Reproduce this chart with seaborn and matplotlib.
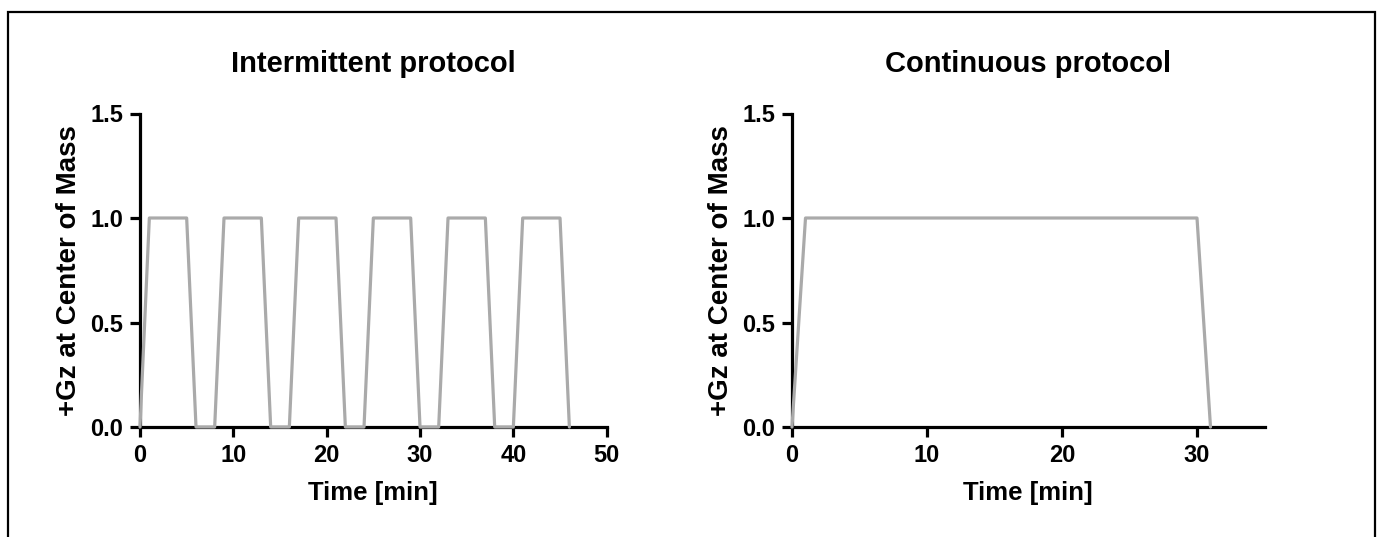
import matplotlib
matplotlib.use("Agg")
import matplotlib.pyplot as plt
from matplotlib.patches import Rectangle
import seaborn as sns

# protocol profiles (time in min, +Gz at center of mass)
intermittent_time = [0, 1, 5, 6, 8, 9, 13, 14, 16, 17, 21, 22, 24, 25, 29, 30,
                     32, 33, 37, 38, 40, 41, 45, 46]
intermittent_gz = [0, 1, 1, 0, 0, 1, 1, 0, 0, 1, 1, 0, 0, 1, 1, 0,
                   0, 1, 1, 0, 0, 1, 1, 0]
continuous_time = [0, 1, 30, 31]
continuous_gz = [0, 1, 1, 0]

titles = ["Intermittent protocol", "Continuous protocol"]
xlims = [50, 35]
xticks = [[0, 10, 20, 30, 40, 50], [0, 10, 20, 30]]
yticks = [0.0, 0.5, 1.0, 1.5]

sns.set_style("ticks")
plt.rcParams['font.family'] = ['Liberation Sans', 'DejaVu Sans']
plt.rcParams['font.weight'] = 'bold'
plt.rcParams['text.color'] = 'black'
plt.rcParams['axes.labelcolor'] = 'black'
plt.rcParams['xtick.color'] = 'black'
plt.rcParams['ytick.color'] = 'black'
plt.rcParams['axes.edgecolor'] = 'black'

line_col = "#aaaaaa"

fig = plt.figure(figsize=(13.8, 5.37), dpi=100)
ax1 = fig.add_axes([140/1380, 110/537, 466.7/1380, 313.5/537])
ax2 = fig.add_axes([792/1380, 110/537, 472.5/1380, 313.5/537])

data = [(intermittent_time, intermittent_gz), (continuous_time, continuous_gz)]
for i, ax in enumerate([ax1, ax2]):
    t, g = data[i]
    sns.lineplot(x=t, y=g, ax=ax, color=line_col, linewidth=2.3,
                 estimator=None, sort=False)
    for ln in ax.lines:
        ln.set_clip_on(False)
        ln.set_zorder(4)
    ax.set_xlim(0, xlims[i])
    ax.set_ylim(0, 1.5)
    ax.set_xticks(xticks[i])
    ax.set_yticks(yticks)
    ax.set_yticklabels(["%.1f" % v for v in yticks])
    sns.despine(ax=ax)
    for s in ["left", "bottom"]:
        ax.spines[s].set_linewidth(2.3)
        ax.spines[s].set_color("black")
    ax.tick_params(width=2.3, length=7, labelsize=17, pad=5)
    for lab in ax.get_xticklabels() + ax.get_yticklabels():
        lab.set_fontweight("bold")
    ax.set_title(titles[i], fontsize=21, fontweight="bold", pad=30)
    ax.set_xlabel("Time [min]", fontsize=18.5, fontweight="bold", labelpad=10)
    ax.set_ylabel("+Gz at Center of Mass", fontsize=20, fontweight="bold", labelpad=6)

fig.patches.append(Rectangle((8/1380, -0.1), 1367/1380, 1.1 - 12/537,
                             transform=fig.transFigure, fill=False,
                             edgecolor="black", linewidth=1.6))

plt.savefig("out.png", dpi=100)
